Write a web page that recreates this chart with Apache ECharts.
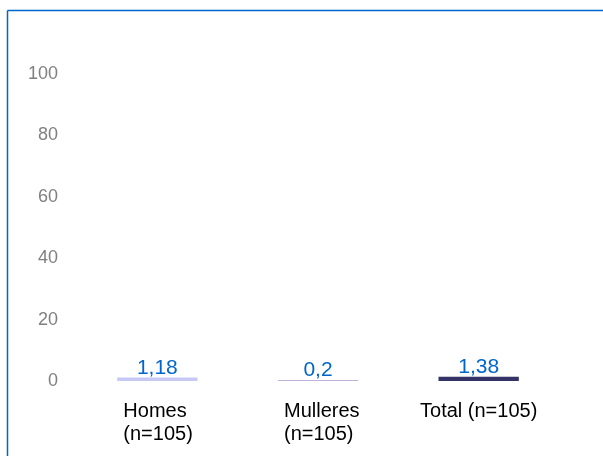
<!DOCTYPE html>
<html>
<head>
<meta charset="utf-8">
<script src="https://cdn.jsdelivr.net/npm/echarts@6/dist/echarts.min.js"></script>
<style>
html,body{margin:0;padding:0;background:#fff;}
#chart{width:603px;height:456px;}
</style>
</head>
<body>
<div id="chart"></div>
<script>
const categories = ["Homes\n(n=105)", "Mulleres\n(n=105)", "Total (n=105)"];
const values = [1.18, 0.2, 1.38];
const barColors = ["#c8c8f4", "#c4b0dc", "#333366"];
const yTicks = [0, 20, 40, 60, 80, 100];

const chart = echarts.init(document.getElementById('chart'), null, {renderer: 'canvas'});

function catFormatter(v) {
  const lines = v.split('\n');
  if (lines.length === 1) return '{b|' + v + '}';
  return lines.map(function (s) { return '{a|' + s + '}'; }).join('\n');
}

const FONT = '"Liberation Sans", Arial, sans-serif';

chart.setOption({
  animation: false,
  backgroundColor: '#ffffff',
  graphic: [
    {type: 'line', shape: {x1: 7.5, y1: 10.5, x2: 603, y2: 10.5}, style: {stroke: '#0066cc', lineWidth: 1.5}},
    {type: 'line', shape: {x1: 7.5, y1: 10.5, x2: 7.5, y2: 456}, style: {stroke: '#0066cc', lineWidth: 1.5}}
  ],
  grid: {left: 77, right: 44, top: 74, bottom: 75, containLabel: false},
  xAxis: {
    type: 'category',
    data: categories,
    axisLine: {show: false},
    axisTick: {show: false},
    axisLabel: {
      margin: 19,
      formatter: catFormatter,
      rich: {
        a: {fontFamily: FONT, fontSize: 20, color: '#000000', lineHeight: 23, width: 68, align: 'left'},
        b: {fontFamily: FONT, fontSize: 20, color: '#000000', lineHeight: 23}
      }
    }
  },
  yAxis: {
    type: 'value',
    min: yTicks[0],
    max: yTicks[yTicks.length - 1],
    interval: yTicks[1] - yTicks[0],
    axisLine: {show: false},
    axisTick: {show: false},
    splitLine: {show: false},
    axisLabel: {
      margin: 19,
      fontFamily: FONT,
      fontSize: 18,
      color: '#808080'
    }
  },
  series: [{
    type: 'bar',
    barWidth: '50%',
    barMinHeight: 1,
    data: values.map(function (v, i) { return {value: v, itemStyle: {color: barColors[i]}}; }),
    label: {
      show: true,
      position: 'top',
      distance: -1,
      fontFamily: FONT,
      fontSize: 21,
      color: '#0066cc',
      formatter: function (p) { return String(p.value).replace('.', ','); }
    }
  }]
});
</script>
</body>
</html>
